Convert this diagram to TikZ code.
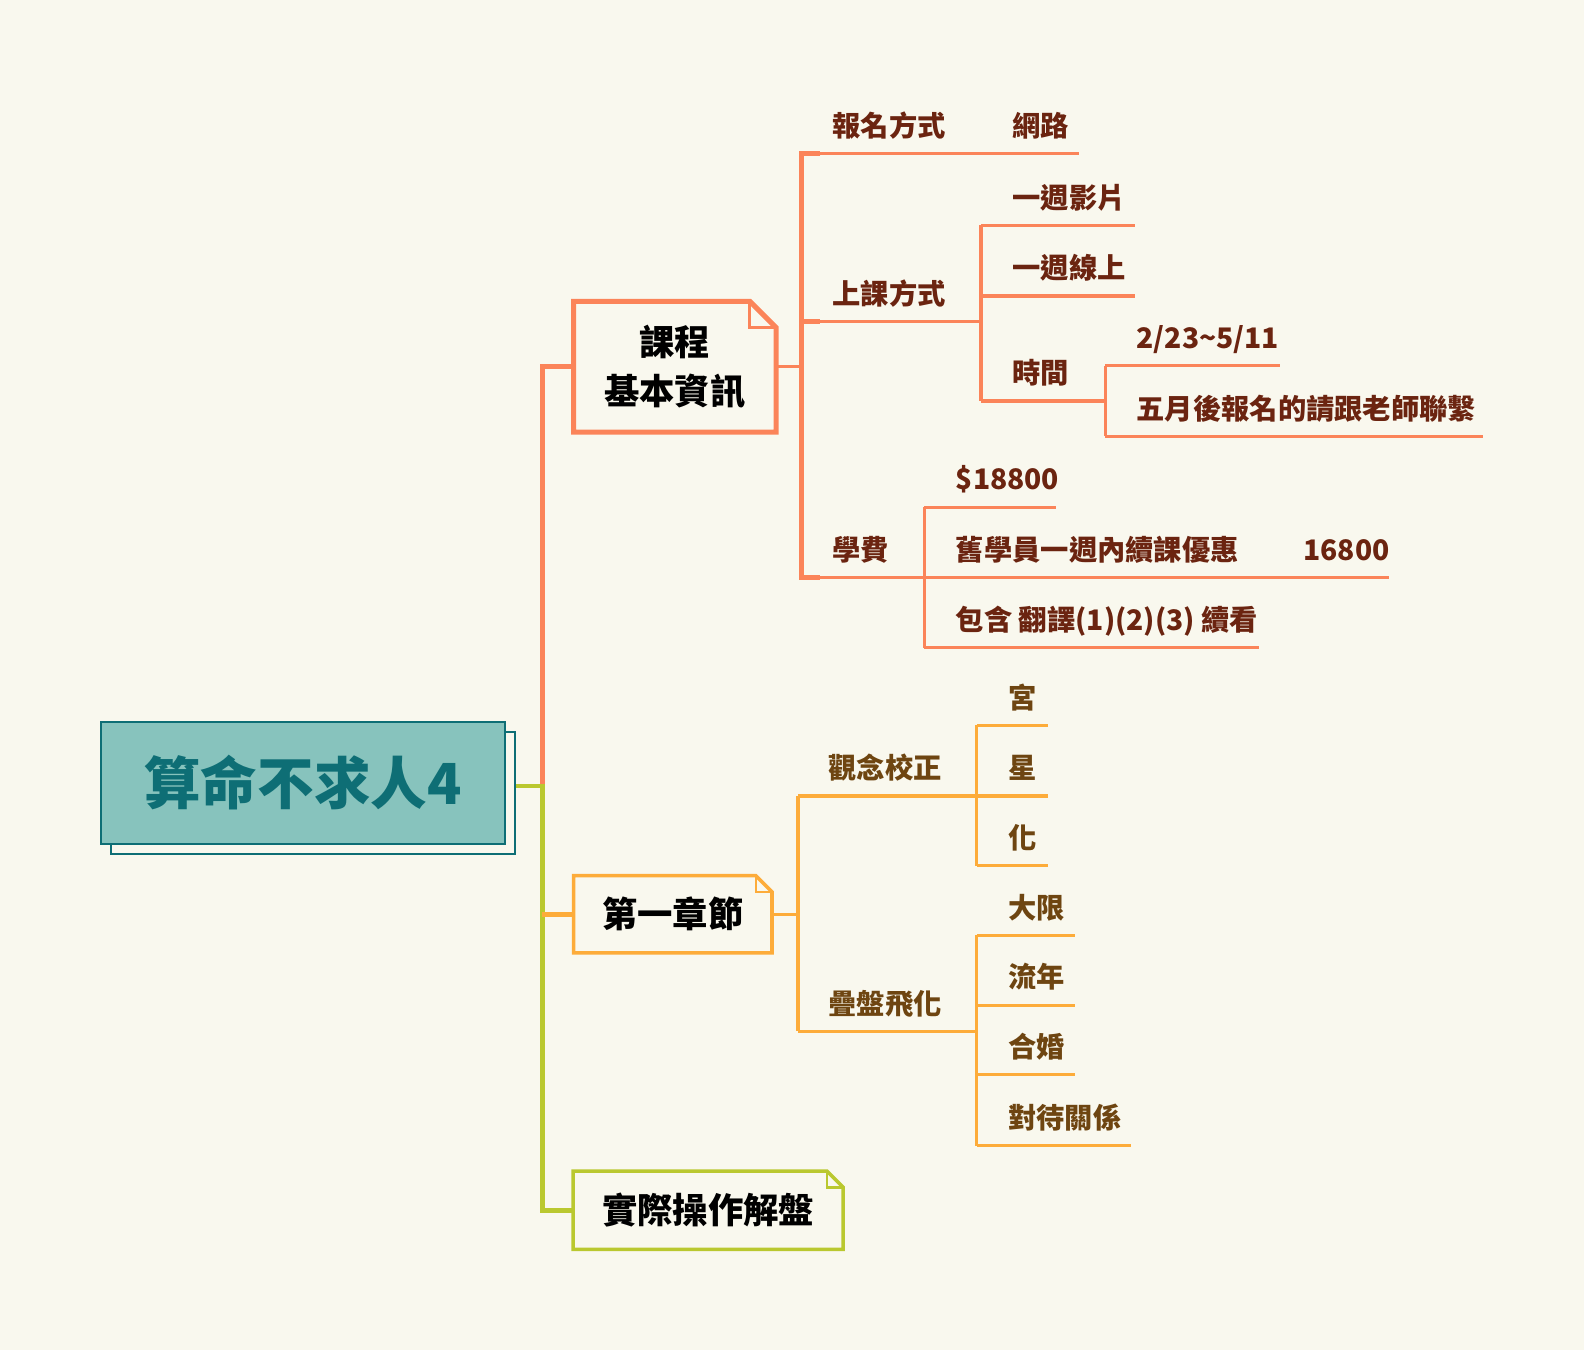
\documentclass[tikz,border=0pt]{standalone}
\usepackage{fontspec}
\setmainfont{Noto Sans CJK TC}
\usetikzlibrary{shadows}
\definecolor{bg}{HTML}{F9F8EE}
\definecolor{colA}{HTML}{FB8459}
\definecolor{txtA}{HTML}{6B2410}
\definecolor{colB}{HTML}{FDAC3A}
\definecolor{txtB}{HTML}{6E4511}
\definecolor{colC}{HTML}{BAC82F}
\definecolor{rootfill}{HTML}{87C3BD}
\definecolor{rootline}{HTML}{0E6E75}

\begin{document}
\begin{tikzpicture}[x=1pt,y=-1pt,
    lab/.style={anchor=base west,inner sep=0pt,yshift=17pt,font=\fontsize{28}{32}\selectfont\bfseries},
    labA/.style={lab,text=txtA},
    labB/.style={lab,text=txtB},
    lnA/.style={draw=colA,line width=3.2pt},
    lnB/.style={draw=colB,line width=3.2pt},
    topic/.style={font=\fontsize{35}{48}\selectfont\bfseries,align=center,inner sep=0pt,fill=bg}]
  \useasboundingbox[fill=bg] (0,0) rectangle (1568,1336);

  % central topic
  \node[fill=rootfill,draw=rootline,line width=2pt,minimum width=400pt,minimum height=120pt,
        copy shadow={shadow xshift=10pt,shadow yshift=-10pt,fill=bg,draw=rootline,line width=2pt},
        font=\fontsize{56}{60}\selectfont\bfseries,text=rootline] (root) at (300,775) {算命不求人4};

  % main topics
  \node[topic,minimum width=200pt,minimum height=129pt] (kc) at (668,363) {課程\\基本資訊};
  \node[topic,minimum width=196pt,minimum height=76pt] (dy) at (666,905) {第一章節};
  \node[topic,minimum width=267pt,minimum height=77pt] (sj) at (701,1198) {實際操作解盤};

  \draw[colA,line width=5pt] (kc.south west) -- (kc.north west) -- ([xshift=-26pt]kc.north east)
    -- ([yshift=-26pt]kc.north east) -- (kc.south east) -- cycle;
  \draw[colA,line width=3pt] ([xshift=-26pt]kc.north east) |- ([yshift=-26pt]kc.north east);
  \draw[colB,line width=3.5pt] (dy.south west) -- (dy.north west) -- ([xshift=-16pt]dy.north east)
    -- ([yshift=-16pt]dy.north east) -- (dy.south east) -- cycle;
  \draw[colB,line width=2.5pt] ([xshift=-16pt]dy.north east) |- ([yshift=-16pt]dy.north east);
  \draw[colC,line width=3.5pt] (sj.south west) -- (sj.north west) -- ([xshift=-16pt]sj.north east)
    -- ([yshift=-16pt]sj.north east) -- (sj.south east) -- cycle;
  \draw[colC,line width=2.5pt] ([xshift=-16pt]sj.north east) |- ([yshift=-16pt]sj.north east);

  % trunk
  \coordinate (t0) at (537,778);
  \draw[colA,line width=4.5pt] (t0) |- (kc.west);
  \draw[colC,line width=4.5pt] ([xshift=10pt]root.east |- t0) -- (t0) |- (sj.west);
  \draw[colB,line width=4.5pt] (t0 |- dy.west) -- (dy.west);

  % 課程基本資訊
  \coordinate (a0) at (793,363);
  \coordinate (a1) at (793,152);
  \coordinate (a2) at (793,318);
  \coordinate (a3) at (793,572);
  \draw[lnA] (kc.east) -- (a0);
  \draw[lnA] (a1) -- ++(275,0);
  \draw[lnA] (a2) -- ++(178,0);
  \draw[lnA] (a3) -- ++(582,0);
  \draw[colA,line width=5pt] ([xshift=19pt]a1) -- (a1) -- (a3) -- ([xshift=19pt]a3);
  \draw[colA,line width=5pt] (a2) -- ([xshift=19pt]a2);
  \node[labA] (bmfs) at (824,152) {報名方式};
  \node[labA] (wl) at (1002,152) {網路};
  \node[labA] (skfs) at (824,318) {上課方式};
  \node[labA] (xf) at (824,572) {學費};

  \coordinate (b1) at (971,223);
  \coordinate (b2) at (971,293);
  \coordinate (b3) at (971,397);
  \draw[lnA] (b1) -- (b3);
  \draw[lnA] (b1) -- ++(153,0);
  \draw[lnA] (b2) -- ++(153,0);
  \draw[lnA] (b3) -- ++(123,0);
  \node[labA] (yzyp) at (1002,223) {一週影片};
  \node[labA] (yzxs) at (1002,293) {一週線上};
  \node[labA] (sjian) at (1002,397) {時間};

  \coordinate (c1) at (1094,362);
  \coordinate (c2) at (1094,432);
  \draw[lnA] (c1) -- (c2);
  \draw[lnA] (c1) -- ++(173,0);
  \draw[lnA] (c2) -- ++(374,0);
  \node[labA] (rq) at (1125,362) {2/23\char"007E 5/11};
  \node[labA] (wy) at (1125,432) {五月後報名的請跟老師聯繫};

  \coordinate (d1) at (915,502);
  \coordinate (d2) at (915,641);
  \draw[lnA] (d1) -- (d2);
  \draw[lnA] (d1) -- ++(130,0);
  \draw[lnA] (d2) -- ++(331,0);
  \node[labA] (p1) at (946,502) {\$18800};
  \node[labA] (p2) at (946,572) {舊學員一週內續課優惠};
  \node[labA] (p3) at (1290,572) {16800};
  \node[labA] (bh) at (946,641) {包含 翻譯(1)(2)(3) 續看};

  % 第一章節
  \coordinate (e0) at (790,905);
  \coordinate (e1) at (790,788);
  \coordinate (e2) at (790,1021);
  \draw[lnB] (dy.east) -- (e0);
  \draw[colB,line width=3.5pt] (e1) -- (e2);
  \draw[lnB] (e1) -- ++(177,0);
  \draw[lnB] (e2) -- ++(177,0);
  \node[labB] (gn) at (820,788) {觀念校正};
  \node[labB] (dp) at (820,1021) {疊盤飛化};

  \coordinate (f1) at (967,718);
  \coordinate (f2) at (967,788);
  \coordinate (f3) at (967,857);
  \draw[lnB] (f1) -- (f3);
  \draw[lnB] (f1) -- ++(70,0);
  \draw[lnB] (f2) -- ++(70,0);
  \draw[lnB] (f3) -- ++(70,0);
  \node[labB] (gong) at (998,718) {宮};
  \node[labB] (xing) at (998,788) {星};
  \node[labB] (hua) at (998,857) {化};

  \coordinate (g1) at (967,926);
  \coordinate (g2) at (967,995);
  \coordinate (g3) at (967,1064);
  \coordinate (g4) at (967,1134);
  \draw[lnB] (g1) -- (g4);
  \draw[lnB] (g1) -- ++(97,0);
  \draw[lnB] (g2) -- ++(97,0);
  \draw[lnB] (g3) -- ++(97,0);
  \draw[lnB] (g4) -- ++(153,0);
  \node[labB] (dx) at (998,926) {大限};
  \node[labB] (ln) at (998,995) {流年};
  \node[labB] (hh) at (998,1064) {合婚};
  \node[labB] (dd) at (998,1134) {對待關係};
\end{tikzpicture}
\end{document}
